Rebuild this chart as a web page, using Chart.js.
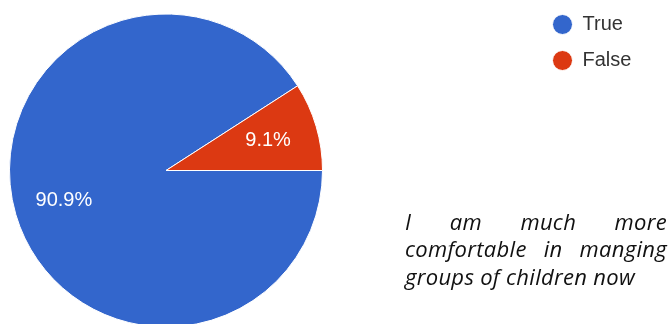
<!DOCTYPE html>
<html>
<head>
<meta charset="utf-8">
<script src="https://cdn.jsdelivr.net/npm/chart.js@4/dist/chart.umd.min.js"></script>
<style>
  html, body { margin: 0; padding: 0; background: #fff; overflow: hidden; width: 670px; height: 324px; }
  #wrap { position: relative; width: 670px; height: 324px; overflow: hidden; }
  canvas { position: absolute; left: 0; top: 0; }
  #note { position: absolute; left: 405px; top: 207.7px; width: 262px; font-family: "Open Sans", Lato, sans-serif; font-style: italic; font-size: 22px; letter-spacing: 0.3px; line-height: 27.5px; color: #111; }
  #note div { white-space: nowrap; }
  #note .j { text-align: justify; text-align-last: justify; white-space: normal; }
</style>
</head>
<body>
<div id="wrap">
  <canvas id="c" width="670" height="341"></canvas>
  <div id="note">
    <div class="j">I am much more</div>
    <div class="j">comfortable in manging</div>
    <div>groups of children now</div>
  </div>
</div>
<script>
const categories = ["True", "False"];
const values = [90.9, 9.1];
const colors = ["#3366cc", "#dc3912"];

const legendPlace = {
  id: 'legendPlace',
  beforeUpdate(chart) {
    const lg = chart.legend;
    if (lg && !lg._patched) {
      const fit = lg.fit;
      lg.fit = function () { fit.call(this); this.width = 338; };
      lg._patched = true;
    }
  },
  afterLayout(chart) {
    const lg = chart.legend;
    lg.left = 536.5;
    lg.right = 670;
    lg.top = -1.5;
  }
};

const sliceLabels = {
  id: 'sliceLabels',
  afterDatasetsDraw(chart) {
    const ctx = chart.ctx;
    const meta = chart.getDatasetMeta(0);
    ctx.save();
    ctx.font = '20px "Liberation Sans", Arial, sans-serif';
    ctx.fillStyle = '#ffffff';
    ctx.textAlign = 'center';
    ctx.textBaseline = 'middle';
    meta.data.forEach((arc, i) => {
      const p = arc.getProps(['x', 'y', 'startAngle', 'endAngle', 'outerRadius'], true);
      const mid = (p.startAngle + p.endAngle) / 2;
      const r = p.outerRadius * 0.68;
      ctx.fillText(values[i].toFixed(1) + '%', p.x + Math.cos(mid) * r, p.y + Math.sin(mid) * r);
    });
    ctx.restore();
  }
};

new Chart(document.getElementById('c'), {
  type: 'pie',
  data: {
    labels: categories,
    datasets: [{
      data: values,
      backgroundColor: colors,
      borderColor: '#ffffff',
      borderWidth: 1
    }]
  },
  options: {
    responsive: false,
    animation: false,
    devicePixelRatio: 1,
    rotation: 90,
    radius: 156.5,
    layout: { padding: 0 },
    plugins: {
      tooltip: { enabled: false },
      legend: {
        position: 'right',
        align: 'start',
        labels: {
          usePointStyle: true,
          pointStyle: 'circle',
          pointStyleWidth: 20,
          boxWidth: 20,
          boxHeight: 14.14,
          padding: 16,
          color: '#333333',
          font: { family: '"Liberation Sans", Arial, sans-serif', size: 20 }
        }
      }
    }
  },
  plugins: [legendPlace, sliceLabels]
});
</script>
</body>
</html>
